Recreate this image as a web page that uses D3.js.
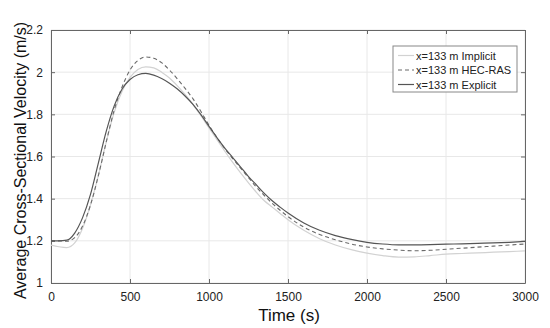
<!DOCTYPE html>
<html>
<head>
<meta charset="utf-8">
<script src="https://cdn.jsdelivr.net/npm/d3@7"></script>
<style>
  body { margin: 0; background: #fff; }
  text { font-family: "Liberation Sans", Arial, sans-serif; }
</style>
</head>
<body>
<div id="chart-area"></div>
<script>
// time (s)
let times = [0, 50, 100, 150, 200, 250, 300, 350, 400, 450, 500, 550, 600, 650, 700, 750, 800, 850, 900, 950,
  1000, 1050, 1100, 1150, 1200, 1250, 1300, 1350, 1400, 1450, 1500, 1600, 1700, 1800, 1900,
  2000, 2100, 2200, 2300, 2400, 2500, 2600, 2700, 2800, 2900, 3000]

let implicitVel = [1.18, 1.172, 1.168, 1.19, 1.26, 1.37, 1.51, 1.67, 1.81, 1.91, 1.975, 2.013, 2.025, 2.02, 2.0, 1.972, 1.935, 1.893, 1.845, 1.792,
  1.735, 1.68, 1.625, 1.572, 1.522, 1.475, 1.43, 1.39, 1.36, 1.33, 1.30, 1.25, 1.21, 1.18, 1.158,
  1.142, 1.13, 1.123, 1.124, 1.13, 1.137, 1.14, 1.143, 1.146, 1.149, 1.152]

let hecrasVel = [1.2, 1.2, 1.198, 1.215, 1.27, 1.37, 1.51, 1.67, 1.82, 1.93, 2.01, 2.055, 2.072, 2.066, 2.045, 2.01, 1.968, 1.922, 1.872, 1.812,
  1.748, 1.69, 1.638, 1.59, 1.545, 1.5, 1.455, 1.415, 1.378, 1.345, 1.315, 1.265, 1.23, 1.205, 1.185,
  1.171, 1.162, 1.156, 1.153, 1.155, 1.16, 1.165, 1.17, 1.175, 1.18, 1.185]

let explicitVel = [1.2, 1.2, 1.203, 1.237, 1.31, 1.42, 1.57, 1.72, 1.84, 1.92, 1.965, 1.988, 1.994, 1.986, 1.97, 1.948, 1.92, 1.886, 1.846, 1.797,
  1.743, 1.69, 1.64, 1.595, 1.55, 1.505, 1.465, 1.425, 1.39, 1.36, 1.332, 1.285, 1.25, 1.225, 1.207,
  1.193, 1.185, 1.181, 1.181, 1.182, 1.184, 1.186, 1.188, 1.19, 1.193, 1.197]

let xTicks = [0, 500, 1000, 1500, 2000, 2500, 3000]
let yTicks = [1, 1.2, 1.4, 1.6, 1.8, 2, 2.2]
let seriesNames = ["x=133 m Implicit", "x=133 m HEC-RAS", "x=133 m Explicit"]

let margin = { top: 30, right: 25, bottom: 45, left: 51 }
let canvasWidth = 550 - margin.left - margin.right
let canvasHeight = 328 - margin.top - margin.bottom

let svg = d3.select("#chart-area").append("svg")
  .attr("width", 550)
  .attr("height", 328)

let graphGroup = svg.append("g")
  .attr("transform", "translate(" + margin.left + ", " + margin.top + ")")

let x = d3.scaleLinear().domain([0, 3000]).range([0, canvasWidth])
let y = d3.scaleLinear().domain([1, 2.2]).range([canvasHeight, 0])

// grid
graphGroup.selectAll(".vgrid").data(xTicks).enter().append("line")
  .attr("x1", d => x(d)).attr("x2", d => x(d))
  .attr("y1", 0).attr("y2", canvasHeight)
  .attr("stroke", "#e8e8e8")
graphGroup.selectAll(".hgrid").data(yTicks).enter().append("line")
  .attr("y1", d => y(d)).attr("y2", d => y(d))
  .attr("x1", 0).attr("x2", canvasWidth)
  .attr("stroke", "#e8e8e8")

// axes, matlab style with inner ticks
let axisColor = "#666"
let xAxis = graphGroup.append("g")
  .attr("transform", "translate(0," + canvasHeight + ")")
  .call(d3.axisBottom(x).tickValues(xTicks).tickSizeInner(-4).tickSizeOuter(0).tickPadding(9).tickFormat(d3.format("d")))
let xTop = graphGroup.append("g")
  .call(d3.axisTop(x).tickValues(xTicks).tickSizeInner(-4).tickSizeOuter(0).tickFormat(""))
let yAxis = graphGroup.append("g")
  .call(d3.axisLeft(y).tickValues(yTicks).tickSizeInner(-4).tickSizeOuter(0).tickPadding(8).tickFormat(d3.format("~g")))
let yRight = graphGroup.append("g")
  .attr("transform", "translate(" + canvasWidth + ",0)")
  .call(d3.axisRight(y).tickValues(yTicks).tickSizeInner(-4).tickSizeOuter(0).tickFormat(""))

;[xAxis, xTop, yAxis, yRight].forEach(g => {
  g.selectAll("path, line").attr("stroke", axisColor)
  g.selectAll("text").attr("fill", "#222").style("font-size", "12px")
})

// lines
let line = d3.line().x(d => x(d[0])).y(d => y(d[1])).curve(d3.curveMonotoneX)
let styles = [
  { data: implicitVel, color: "#d2d2d2", dash: null, width: 1.2 },
  { data: hecrasVel, color: "#6a6a6a", dash: "4,3", width: 1.1 },
  { data: explicitVel, color: "#555", dash: null, width: 1.2 }
]
styles.forEach(s => {
  graphGroup.append("path")
    .datum(times.map((t, i) => [t, s.data[i]]))
    .attr("d", line)
    .attr("fill", "none")
    .attr("stroke", s.color)
    .attr("stroke-width", s.width)
    .attr("stroke-dasharray", s.dash)
})

// legend
let legend = svg.append("g").attr("transform", "translate(393, 46)")
legend.append("rect")
  .attr("width", 124).attr("height", 46)
  .attr("fill", "#fff").attr("stroke", "#888")
styles.forEach((s, i) => {
  let ly = 9.5 + i * 14.5
  legend.append("line")
    .attr("x1", 5).attr("x2", 21).attr("y1", ly).attr("y2", ly)
    .attr("stroke", s.color).attr("stroke-width", s.width)
    .attr("stroke-dasharray", s.dash)
  legend.append("text")
    .attr("x", 23).attr("y", ly + 4)
    .style("font-size", "11px").attr("fill", "#222")
    .text(seriesNames[i])
})

// labels
svg.append("text")
  .attr("x", 289).attr("y", 321)
  .attr("text-anchor", "middle")
  .style("font-size", "17px").attr("fill", "#111")
  .text("Time (s)")
svg.append("text")
  .attr("transform", "translate(26, " + (margin.top + canvasHeight / 2 + 4) + ") rotate(-90)")
  .attr("text-anchor", "middle")
  .style("font-size", "16px").attr("fill", "#111")
  .text("Average Cross-Sectional Velocity (m/s)")
</script>
</body>
</html>
